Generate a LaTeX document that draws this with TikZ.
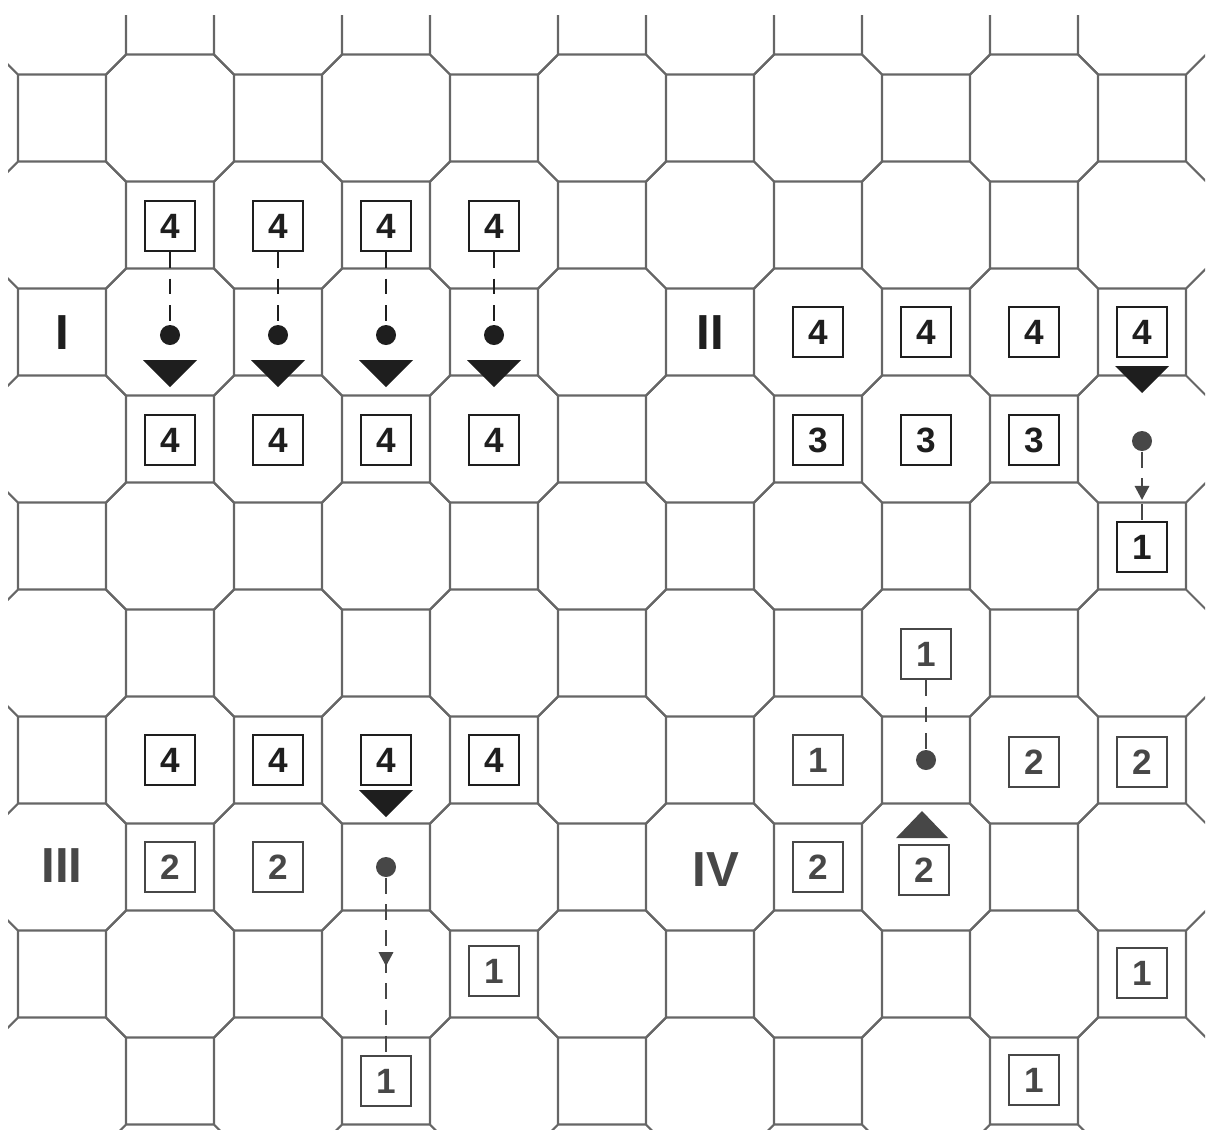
\documentclass[tikz,border=0pt]{standalone}
\usepackage{fontspec}
\setsansfont{Liberation Sans}
\usetikzlibrary{arrows.meta, decorations.markings}
\definecolor{tilegray}{HTML}{666666}
\definecolor{ink}{HTML}{1E1E1E}
\definecolor{softink}{HTML}{474747}
\tikzset{
    tileline/.style={
        draw=tilegray, line width=0.6pt, line join=round
    },
    numbox/.style={
        rectangle, draw=#1, text=#1, line width=0.7pt,
        minimum size=0.5cm, inner sep=0pt,
        font=\sffamily\bfseries\fontsize{10}{10}\selectfont
    },
    numbox/.default=ink,
    panellabel/.style={
        font=\sffamily\bfseries\fontsize{14}{14}\selectfont, text=#1
    },
    panellabel/.default=ink,
    stone/.style={
        circle, fill=#1, minimum size=0.2cm, inner sep=0pt
    },
    stone/.default=ink,
    moveline/.style={
        draw=#1, line width=0.8pt, dash pattern=on 4.5pt off 3pt
    },
    moveline/.default=ink,
    midarrow/.style={
        postaction={decorate},
        decoration={markings, mark=at position #1 with {\arrow{Triangle[length=4pt,width=4pt]}}}
    },
    tridown/.pic={\fill (-27,0) -- (27,0) -- (0,27) -- cycle;},
    triup/.pic={\fill (-26,0) -- (26,0) -- (0,-27) -- cycle;},
}

\begin{document}
\begin{tikzpicture}[x=0.01cm, y=-0.01cm]

    \useasboundingbox (0,0) rectangle (1210,1129);

    % Board: squares on odd cells, octagons between them
    \begin{scope}
        \clip (8,15) rectangle (1205,1129);
        \foreach \r in {0,...,10} {
            \foreach \c in {0,...,10} {
                \pgfmathtruncatemacro{\parity}{mod(\r+\c,2)}
                \ifnum\parity=1
                    \pgfmathsetmacro{\cx}{62+108*\c}
                    \pgfmathsetmacro{\cy}{11+107*\r}
                    \draw[tileline] (\cx-44,\cy-43.5) rectangle (\cx+44,\cy+43.5)
                        (\cx+44,\cy+43.5) -- ++(20,20)
                        (\cx-44,\cy+43.5) -- ++(-20,20)
                        (\cx+44,\cy-43.5) -- ++(20,-20)
                        (\cx-44,\cy-43.5) -- ++(-20,-20);
                \fi
            }
        }
    \end{scope}

    % Panel I
    \node[panellabel] (labI) at (62,333) {I};
    \foreach \c in {1,...,4} {
        \node[numbox] (Itop\c) at ({62+108*\c},226) {4};
        \node[stone] (Idot\c) at ({62+108*\c},335) {};
        \node[numbox] (Ibot\c) at ({62+108*\c},440) {4};
        \draw[moveline] (Itop\c) -- (Idot\c);
        \pic[ink] at ({62+108*\c},360) {tridown};
    }

    % Panel II
    \node[panellabel] (labII) at (710,333) {II};
    \foreach \c in {7,...,10}
        \node[numbox] (IIfour\c) at ({62+108*\c},332) {4};
    \foreach \c in {7,...,9}
        \node[numbox] (IIthree\c) at ({62+108*\c},440) {3};
    \pic[ink] at (1142,366) {tridown};
    \node[stone=softink] (IIdot) at (1142,441) {};
    \node[numbox] (IIone) at (1142,547) {1};
    \draw[moveline=softink, midarrow=0.7] (IIdot) -- (IIone);

    % Panel III
    \node[panellabel=softink] (labIII) at (62,866) {III};
    \foreach \c in {1,...,4}
        \node[numbox] (IIIfour\c) at ({62+108*\c},760) {4};
    \node[numbox=softink] (IIItwoA) at (170,867) {2};
    \node[numbox=softink] (IIItwoB) at (278,867) {2};
    \pic[ink] at (386,790) {tridown};
    \node[stone=softink] (IIIdot) at (386,867) {};
    \node[numbox=softink] (IIIoneA) at (494,971) {1};
    \node[numbox=softink] (IIIoneB) at (386,1081) {1};
    \draw[moveline=softink, midarrow=0.5] (IIIdot) -- (IIIoneB);

    % Panel IV
    \node[panellabel=softink] (labIV) at (716,870) {IV};
    \node[numbox=softink] (IVoneT) at (926,654) {1};
    \node[stone=softink] (IVdot) at (926,760) {};
    \draw[moveline=softink] (IVoneT) -- (IVdot);
    \node[numbox=softink] (IVoneL) at (818,760) {1};
    \node[numbox=softink] (IVtwoA) at (1034,762) {2};
    \node[numbox=softink] (IVtwoB) at (1142,762) {2};
    \node[numbox=softink] (IVtwoC) at (818,867) {2};
    \node[numbox=softink] (IVtwoD) at (924,870) {2};
    \pic[softink] at (922,838) {triup};
    \node[numbox=softink] (IVoneR) at (1142,973) {1};
    \node[numbox=softink] (IVoneB) at (1034,1080) {1};

\end{tikzpicture}
\end{document}
